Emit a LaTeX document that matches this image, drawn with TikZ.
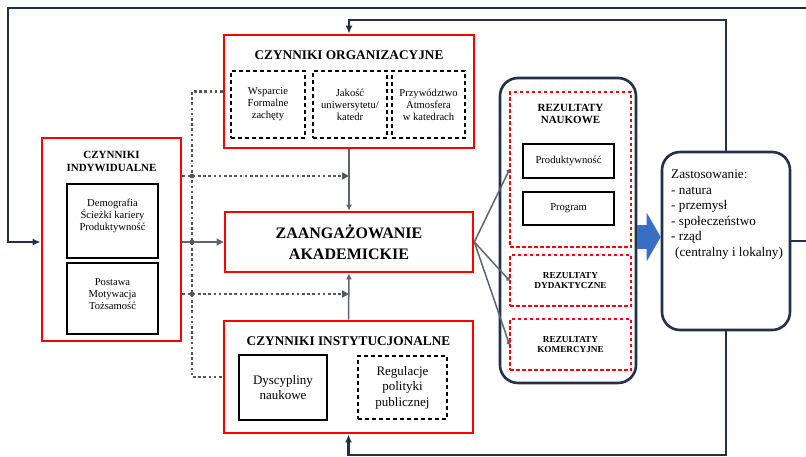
\documentclass[tikz,border=0pt]{standalone}
\usepackage{fontspec}
\setmainfont{Liberation Serif}
\usetikzlibrary{arrows.meta}
\definecolor{navy}{RGB}{36,48,74}
\definecolor{linkgray}{RGB}{95,100,112}
\definecolor{dotgray}{RGB}{85,85,92}
\definecolor{arrowblue}{RGB}{58,110,196}
\tikzset{
	redbox/.style={draw=red,line width=2.7pt,inner sep=0pt},
	dashbox/.style={draw=black,line width=1.1pt,dash pattern=on 4pt off 3pt,inner sep=0pt},
	reddash/.style={draw=red,line width=1.1pt,dash pattern=on 3.5pt off 2.5pt,inner sep=0pt},
	plainbox/.style={draw=black,line width=1.2pt,inner sep=0pt},
	roundbox/.style={draw=navy,line width=2.6pt,rounded corners=18pt,fill=white,inner sep=0pt},
	loopline/.style={draw=navy,line width=2.5pt,-{Latex[length=8pt,width=7pt]}},
	link/.style={draw=linkgray,line width=1.5pt},
	dotlink/.style={draw=dotgray,line width=2.6pt,dash pattern=on 2.6pt off 2.6pt},
	head/.style={font=\fontsize{13.3}{15}\selectfont\bfseries,align=center},
	smalltxt/.style={font=\fontsize{10.6}{12}\selectfont,align=center},
	midtxt/.style={font=\fontsize{13}{15.5}\selectfont,align=center},
	restitle/.style={font=\fontsize{11}{12}\selectfont\bfseries,align=center},
	restiny/.style={font=\fontsize{9.2}{10}\selectfont\bfseries,align=center}
}
\begin{document}
\begin{tikzpicture}[x=1pt,y=1pt,yscale=-1]
	\useasboundingbox (0,0) rectangle (806,456);
	\node (org) [redbox,minimum width=250,minimum height=113] at (349,91.5) {};
	\node (orgt) [head] at (349,55) {CZYNNIKI ORGANIZACYJNE};
	\node (o1) [dashbox,smalltxt,minimum width=74,minimum height=67] at (268,104.5) {Wsparcie\\Formalne\\zachęty};
	\node (o2) [dashbox,smalltxt,minimum width=74,minimum height=67] at (350,104.5) {Jakość\\uniwersytetu/\\katedr};
	\node (o3) [dashbox,smalltxt,minimum width=73,minimum height=67] at (428.5,104.5) {Przywództwo\\Atmosfera\\w katedrach};
	\node (indyw) [redbox,minimum width=139,minimum height=203] at (111.5,239.5) {};
	\node (indywt) [font=\fontsize{11}{13}\selectfont\bfseries,align=center] at (111.5,161.5) {CZYNNIKI\\INDYWIDUALNE};
	\node (i1) [plainbox,minimum width=91,minimum height=74] at (112.5,221) {};
	\node (i1t) [smalltxt] at (112.5,216) {Demografia\\Ścieżki kariery\\Produktywność};
	\node (i2) [plainbox,minimum width=91,minimum height=71] at (112.5,298.5) {};
	\node (i2t) [smalltxt] at (112.5,294) {Postawa\\Motywacja\\Tożsamość};
	\node (zaa) [redbox,minimum width=248,minimum height=60,font=\fontsize{16}{21}\selectfont\bfseries,align=center] at (349,242) {ZAANGAŻOWANIE\\AKADEMICKIE};
	\node (inst) [redbox,minimum width=249,minimum height=112] at (348.5,377) {};
	\node (instt) [head] at (348.5,341) {CZYNNIKI INSTYTUCJONALNE};
	\node (d1) [plainbox,midtxt,minimum width=88,minimum height=65] at (283,387.5) {Dyscypliny\\naukowe};
	\node (d2) [dashbox,midtxt,minimum width=89,minimum height=63] at (402.5,387.5) {Regulacje\\polityki\\publicznej};
	\node (res) [roundbox,minimum width=136,minimum height=305] at (568,230.5) {};
	\node (rn) [reddash,minimum width=121,minimum height=155] at (570.5,169.5) {};
	\node (rnt) [restitle] at (570.5,114) {REZULTATY\\NAUKOWE};
	\node (prod) [plainbox,smalltxt,minimum width=91,minimum height=34] at (568.5,161) {Produktywność};
	\node (prog) [plainbox,smalltxt,minimum width=91,minimum height=33] at (568.5,208.5) {Program};
	\node (rd) [reddash,restiny,minimum width=121,minimum height=51] at (570.5,280.5) {REZULTATY\\DYDAKTYCZNE};
	\node (rk) [reddash,restiny,minimum width=121,minimum height=51] at (570.5,344.5) {REZULTATY\\KOMERCYJNE};
	\node (zast) [roundbox,minimum width=128,minimum height=178] at (726,241) {};
	\node (zastt) [anchor=north west,align=left,font=\fontsize{13.2}{15.5}\selectfont,inner sep=0pt] at (671,170) {Zastosowanie:\\- natura\\- przemysł\\- społeczeństwo\\- rząd\\\hspace{4pt}(centralny i lokalny)};
	\coordinate (nw) at (8,8);
	\coordinate (ne) at (815,8);
	\coordinate (up) at (0,20);
	\coordinate (down) at (0,455);
	\coordinate (ba) at (0,237);
	\coordinate (jo) at (192,91.5);
	\coordinate (ja) at (192,176);
	\coordinate (jb) at (192,242);
	\coordinate (jc) at (192,294);
	\coordinate (ji) at (192,377);
	\draw [loopline] (zast.east) -- (ne |- zast.east) -- (ne) -- (nw) -- (nw |- jb) -- (indyw.west |- jb);
	\draw [loopline] (zast.north) -- (zast.north |- up) -- (org.north |- up) -- (org.north);
	\draw [loopline] (zast.south) -- (zast.south |- down) -- (inst.south |- down) -- (inst.south);
	\draw [link,-{Latex[length=6pt,width=6pt]}] (org.south) -- (zaa.north);
	\draw [link,-{Latex[length=6pt,width=6pt]}] (inst.north) -- (zaa.south);
	\draw [dotlink] (org.west) -- (jo) -- (ji) -- (inst.west);
	\draw [dotlink,-{Triangle[length=7pt,width=7pt]}] (indyw.east |- ja) -- (zaa.north |- ja);
	\draw [dotlink,-{Triangle[length=7pt,width=7pt]}] (indyw.east |- jc) -- (zaa.north |- jc);
	\draw [link,-{Triangle[length=7pt,width=7pt]}] (indyw.east |- jb) -- (zaa.west);
	\foreach \j in {ja,jb,jc}
		\fill [dotgray] (\j) circle (2.4pt);
	\draw [link,-{Circle[length=4pt]}] (zaa.east) -- (rn.west);
	\draw [link,-{Circle[length=4pt]}] (zaa.east) -- (rd.west);
	\draw [link,-{Circle[length=4pt]}] (zaa.east) -- (rk.west);
	\draw [arrowblue,line width=24pt,-{Triangle[length=14pt,width=48pt]}] (res.east |- ba) -- (zast.west |- ba);
\end{tikzpicture}
\end{document}
